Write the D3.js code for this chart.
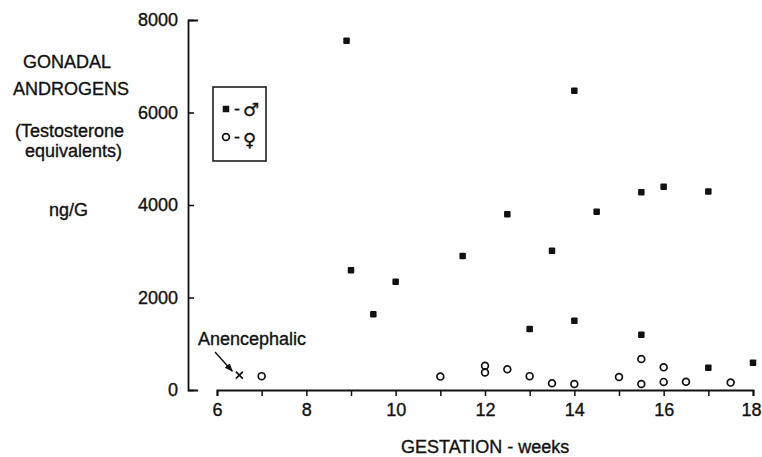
<!DOCTYPE html>
<html>
<head>
<meta charset="utf-8">
<script src="https://cdn.jsdelivr.net/npm/d3@7"></script>
<style>
  body { margin: 0; background: #fff; }
  text { font-family: "Liberation Sans", Arial, sans-serif; fill: #111; stroke: #111; stroke-width: 0.35px; }
</style>
</head>
<body>
<script>
var w = 762;
var h = 457;

// male (filled squares): [weeks, ng/G]
var maleWeeks  = [8.9, 9, 9.5, 10, 11.5, 12.5, 13, 13.5, 14, 14, 14.5, 15.5, 15.5, 16, 17, 17, 18];
var maleValues = [7550, 2590, 1640, 2340, 2900, 3800, 1320, 3010, 6470, 1500, 3855, 4275, 1195, 4395, 4290, 480, 590];

// female (open circles)
var femaleWeeks  = [7, 11, 12, 12, 12.5, 13, 13.5, 14, 15, 15.5, 15.5, 16, 16, 16.5, 17.5];
var femaleValues = [300, 290, 525, 380, 450, 300, 145, 130, 280, 670, 130, 490, 175, 180, 160];

// anencephalic case
var anenWeeks  = [6.5];
var anenValues = [320];

var xTicks = [6, 7, 8, 9, 10, 11, 12, 13, 14, 15, 16, 17, 18];
var yTicks = [0, 2000, 4000, 6000, 8000];

var axisX = 188;   // where the y axis sits

var xScale = d3.scaleLinear().domain([6, 18]).range([217, 753]);
var yScale = d3.scaleLinear().domain([0, 8000]).range([390, 20]);

var svg = d3.select("body").append("svg")
    .attr("width", w)
    .attr("height", h);

// y axis, ticks pointing inward
var yAxis = d3.axisLeft(yScale)
    .tickValues(yTicks)
    .tickSizeInner(-6)
    .tickSizeOuter(-10)
    .tickPadding(10)
    .tickFormat(d3.format("d"));

var gy = svg.append("g")
    .attr("transform", "translate(" + axisX + ",0)")
    .call(yAxis);
gy.select(".domain").attr("stroke", "#111").attr("stroke-width", 1.8);
gy.selectAll(".tick line").attr("stroke", "#111").attr("stroke-width", 1.6);
gy.selectAll(".tick text")
    .style("font-size", "18px")
    .attr("fill", "#111");

// x axis, every week ticked, even weeks labelled
var xAxis = d3.axisBottom(xScale)
    .tickValues(xTicks)
    .tickSize(6)
    .tickPadding(7)
    .tickFormat(function(d) { return d % 2 === 0 ? d : ""; });

var gx = svg.append("g")
    .attr("transform", "translate(0," + yScale(0) + ")")
    .call(xAxis);
gx.select(".domain").attr("stroke", "#111").attr("stroke-width", 2);
gx.selectAll(".tick line").attr("stroke", "#111").attr("stroke-width", 1.5);
gx.selectAll(".tick text")
    .style("font-size", "18px")
    .attr("fill", "#111")
    .attr("dx", function(d) { return d === 18 ? -2 : 0; });

// points
var sq = 6.5;
svg.selectAll("rect.male")
    .data(d3.zip(maleWeeks, maleValues))
    .enter()
    .append("rect")
    .attr("class", "male")
    .attr("x", function(d) { return xScale(d[0]) - sq / 2; })
    .attr("y", function(d) { return yScale(d[1]) - sq / 2; })
    .attr("width", sq)
    .attr("height", sq)
    .attr("rx", 1)
    .attr("fill", "#111");

svg.selectAll("circle.female")
    .data(d3.zip(femaleWeeks, femaleValues))
    .enter()
    .append("circle")
    .attr("class", "female")
    .attr("cx", function(d) { return xScale(d[0]); })
    .attr("cy", function(d) { return yScale(d[1]); })
    .attr("r", 3.4)
    .attr("fill", "none")
    .attr("stroke", "#111")
    .attr("stroke-width", 1.7);

var xs = 3.5;
svg.selectAll("path.anen")
    .data(d3.zip(anenWeeks, anenValues))
    .enter()
    .append("path")
    .attr("class", "anen")
    .attr("d", function(d) {
        var cx = xScale(d[0]), cy = yScale(d[1]);
        return "M" + (cx - xs) + "," + (cy - xs) + "L" + (cx + xs) + "," + (cy + xs) +
               "M" + (cx - xs) + "," + (cy + xs) + "L" + (cx + xs) + "," + (cy - xs);
    })
    .attr("stroke", "#111")
    .attr("stroke-width", 1.7);

// anencephalic note + arrow
svg.append("text")
    .attr("x", 198)
    .attr("y", 345)
    .style("font-size", "18px")
    .text("Anencephalic");

svg.append("defs").append("marker")
    .attr("id", "arr")
    .attr("viewBox", "0 0 10 10")
    .attr("refX", 9).attr("refY", 5)
    .attr("markerWidth", 6).attr("markerHeight", 6)
    .attr("orient", "auto")
    .append("path")
    .attr("d", "M0,1L10,5L0,9Z")
    .attr("fill", "#111");

svg.append("line")
    .attr("x1", 215).attr("y1", 352)
    .attr("x2", xScale(anenWeeks[0]) - 7).attr("y2", yScale(anenValues[0]) - 4)
    .attr("stroke", "#111")
    .attr("stroke-width", 1.4)
    .attr("marker-end", "url(#arr)");

// y axis title block
var yTitle = [
    ["GONADAL", 23, 68],
    ["ANDROGENS", 13, 95],
    ["(Testosterone", 15, 137],
    ["equivalents)", 25, 157],
    ["ng/G", 49, 216]
];
svg.selectAll("text.ytitle")
    .data(yTitle)
    .enter()
    .append("text")
    .attr("class", "ytitle")
    .attr("x", function(d) { return d[1]; })
    .attr("y", function(d) { return d[2]; })
    .style("font-size", "18px")
    .text(function(d) { return d[0]; });

// x axis title
svg.append("text")
    .attr("x", 401)
    .attr("y", 453)
    .style("font-size", "18px")
    .text("GESTATION - weeks");

// legend
var leg = svg.append("g");
leg.append("rect")
    .attr("x", 213).attr("y", 87)
    .attr("width", 53).attr("height", 74)
    .attr("fill", "none")
    .attr("stroke", "#111")
    .attr("stroke-width", 1.5);
leg.append("rect")
    .attr("x", 226 - sq / 2).attr("y", 109 - sq / 2)
    .attr("width", sq).attr("height", sq)
    .attr("fill", "#111");
leg.append("circle")
    .attr("cx", 226).attr("cy", 137)
    .attr("r", 3.4)
    .attr("fill", "none")
    .attr("stroke", "#111")
    .attr("stroke-width", 1.7);
leg.append("text")
    .attr("x", 234).attr("y", 115)
    .style("font-size", "18px")
    .text("-");
leg.append("text")
    .attr("x", 234).attr("y", 143)
    .style("font-size", "18px")
    .text("-");
leg.append("text")
    .attr("x", 243).attr("y", 116)
    .style("font-family", "DejaVu Sans")
    .style("font-size", "18px")
    .text("\u2642");
leg.append("text")
    .attr("x", 243).attr("y", 146)
    .style("font-family", "DejaVu Sans")
    .style("font-size", "18px")
    .text("\u2640");
</script>
</body>
</html>
